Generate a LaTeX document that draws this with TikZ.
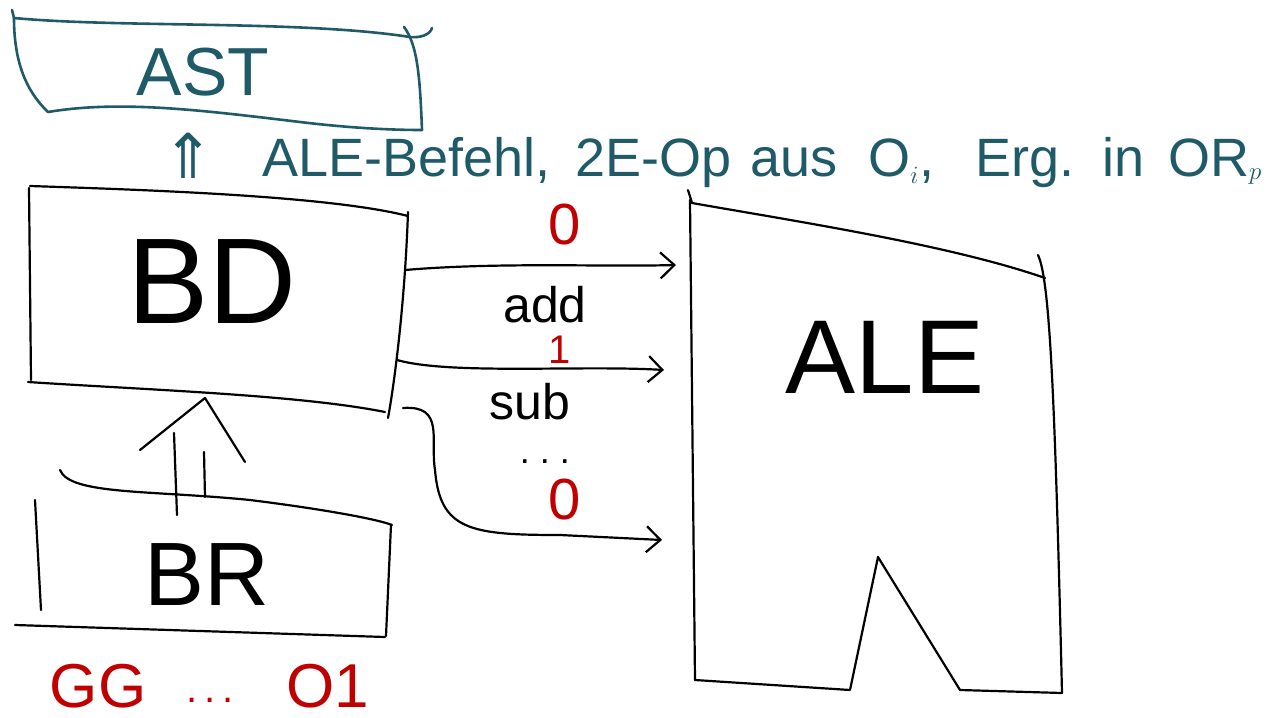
\documentclass[tikz,border=0pt]{standalone}
\usepackage{fontspec}
\setmainfont{Liberation Sans}
\newfontfamily\symfont{DejaVu Sans}
\usetikzlibrary{arrows.meta}
\definecolor{inkteal}{HTML}{1F5A69}
\definecolor{inkred}{HTML}{C00000}
\begin{document}
\begin{tikzpicture}[x=1pt,y=-1pt,line cap=round,line join=round,
  ink/.style={line width=2.2pt,black},
  tink/.style={line width=2.6pt,inkteal},
  harrow/.style={ink,-{Straight Barb[length=14pt,width=26pt,line width=2.2pt]}},
  big/.style={font=\fontsize{#1}{#1}\selectfont,inner sep=0pt},
  tw/.style={big=54pt,text=inkteal,anchor=base west}]
\useasboundingbox (0,0) rectangle (1278,718);
% AST box
\draw[tink] (12,10) -- (14,18) .. controls (120,28) and (300,20) .. (410,37) .. controls (420,38) and (430,35) .. (432,28);
\draw[tink] (404,27) .. controls (418,45) and (420,80) .. (422,130);
\draw[tink] (14,18) .. controls (14,60) and (25,90) .. (48,112) .. controls (120,100) and (200,110) .. (300,122) .. controls (350,128) and (390,130) .. (422,130);
\node[big=68pt,text=inkteal] (ast) at (203,72) {AST};
% top line of text
\node[tw,font=\fontsize{62pt}{62pt}\selectfont] (w0) at (162,178) {\symfont ⇑};
\node[tw] (w1) at (262,176) {ALE-Befehl,};
\node[tw] (w2) at (575,176) {2E-Op};
\node[tw] (w3) at (750,176) {aus};
\node[tw] (w4) at (868,176) {O$_i$,};
\node[tw] (w5) at (975,176) {Erg.};
\node[tw] (w6) at (1102,176) {in};
\node[tw] (w7) at (1168,176) {OR$_p$};
% BD box
\draw[ink] (30,186) .. controls (150,190) and (330,196) .. (408,216);
\draw[ink] (29,188) -- (31,380);
\draw[ink] (28,382) .. controls (150,390) and (300,395) .. (385,412);
\draw[ink] (408,212) .. controls (405,300) and (395,380) .. (388,418);
\node[big=122pt] (bd) at (212,282) {BD};
\coordinate (bdbottom) at (205,398);
% BR box
\draw[ink] (60,470) .. controls (70,495) and (150,490) .. (250,500) .. controls (330,510) and (380,520) .. (392,525);
\draw[ink] (35,500) -- (41,610);
\draw[ink] (15,625) -- (385,637);
\draw[ink] (391,525) -- (386,636);
\node[big=90pt] (br) at (207,575) {BR};
\node[big=62pt,text=inkred] (gg) at (98,686) {GG};
\node[big=40pt,text=inkred] (gdots) at (210,700) {.\,.\,.};
\node[big=62pt,text=inkred] (o1code) at (328,686) {O1};
% double arrow BR -> BD
\draw[ink] (177,515) -- (174,433);
\draw[ink] (205,497) -- (204,452);
\draw[ink] (140,450) -- (bdbottom) -- (245,462);
% ALE box
\draw[ink] (688,190) -- (692,203) .. controls (800,222) and (950,245) .. (1045,278);
\draw[ink] (690,200) -- (695,680);
\draw[ink] (695,680) -- (850,690) -- (878,557) -- (960,690) -- (1062,693);
\draw[ink] (1038,255) .. controls (1050,280) and (1055,400) .. (1062,693);
\node[big=105pt] (ale) at (885,357) {ALE};
% connectors
\coordinate (o1) at (405,270);
\coordinate (i1) at (676,265);
\coordinate (o2) at (397,360);
\coordinate (i2) at (664,370);
\coordinate (o3) at (403,408);
\coordinate (i3) at (662,540);
\draw[harrow] (o1) .. controls (500,262) and (600,267) .. (i1);
\draw[harrow] (o2) .. controls (450,375) and (580,365) .. (i2);
\draw[harrow] (o3) .. controls (445,405) and (430,440) .. (435,470) .. controls (440,530) and (470,535) .. (560,535) -- (i3);
\node[big=50pt] (add) at (545,305) {add};
\node[big=40pt,text=inkred] (one) at (560,350) {1};
\node[big=50pt] (sub) at (530,402) {sub};
\node[big=36pt] (dots) at (545,462) {.\ .\ .};
\node[big=58pt,text=inkred] (z1) at (565,225) {0};
\node[big=58pt,text=inkred] (z2) at (565,500) {0};
\end{tikzpicture}
\end{document}
